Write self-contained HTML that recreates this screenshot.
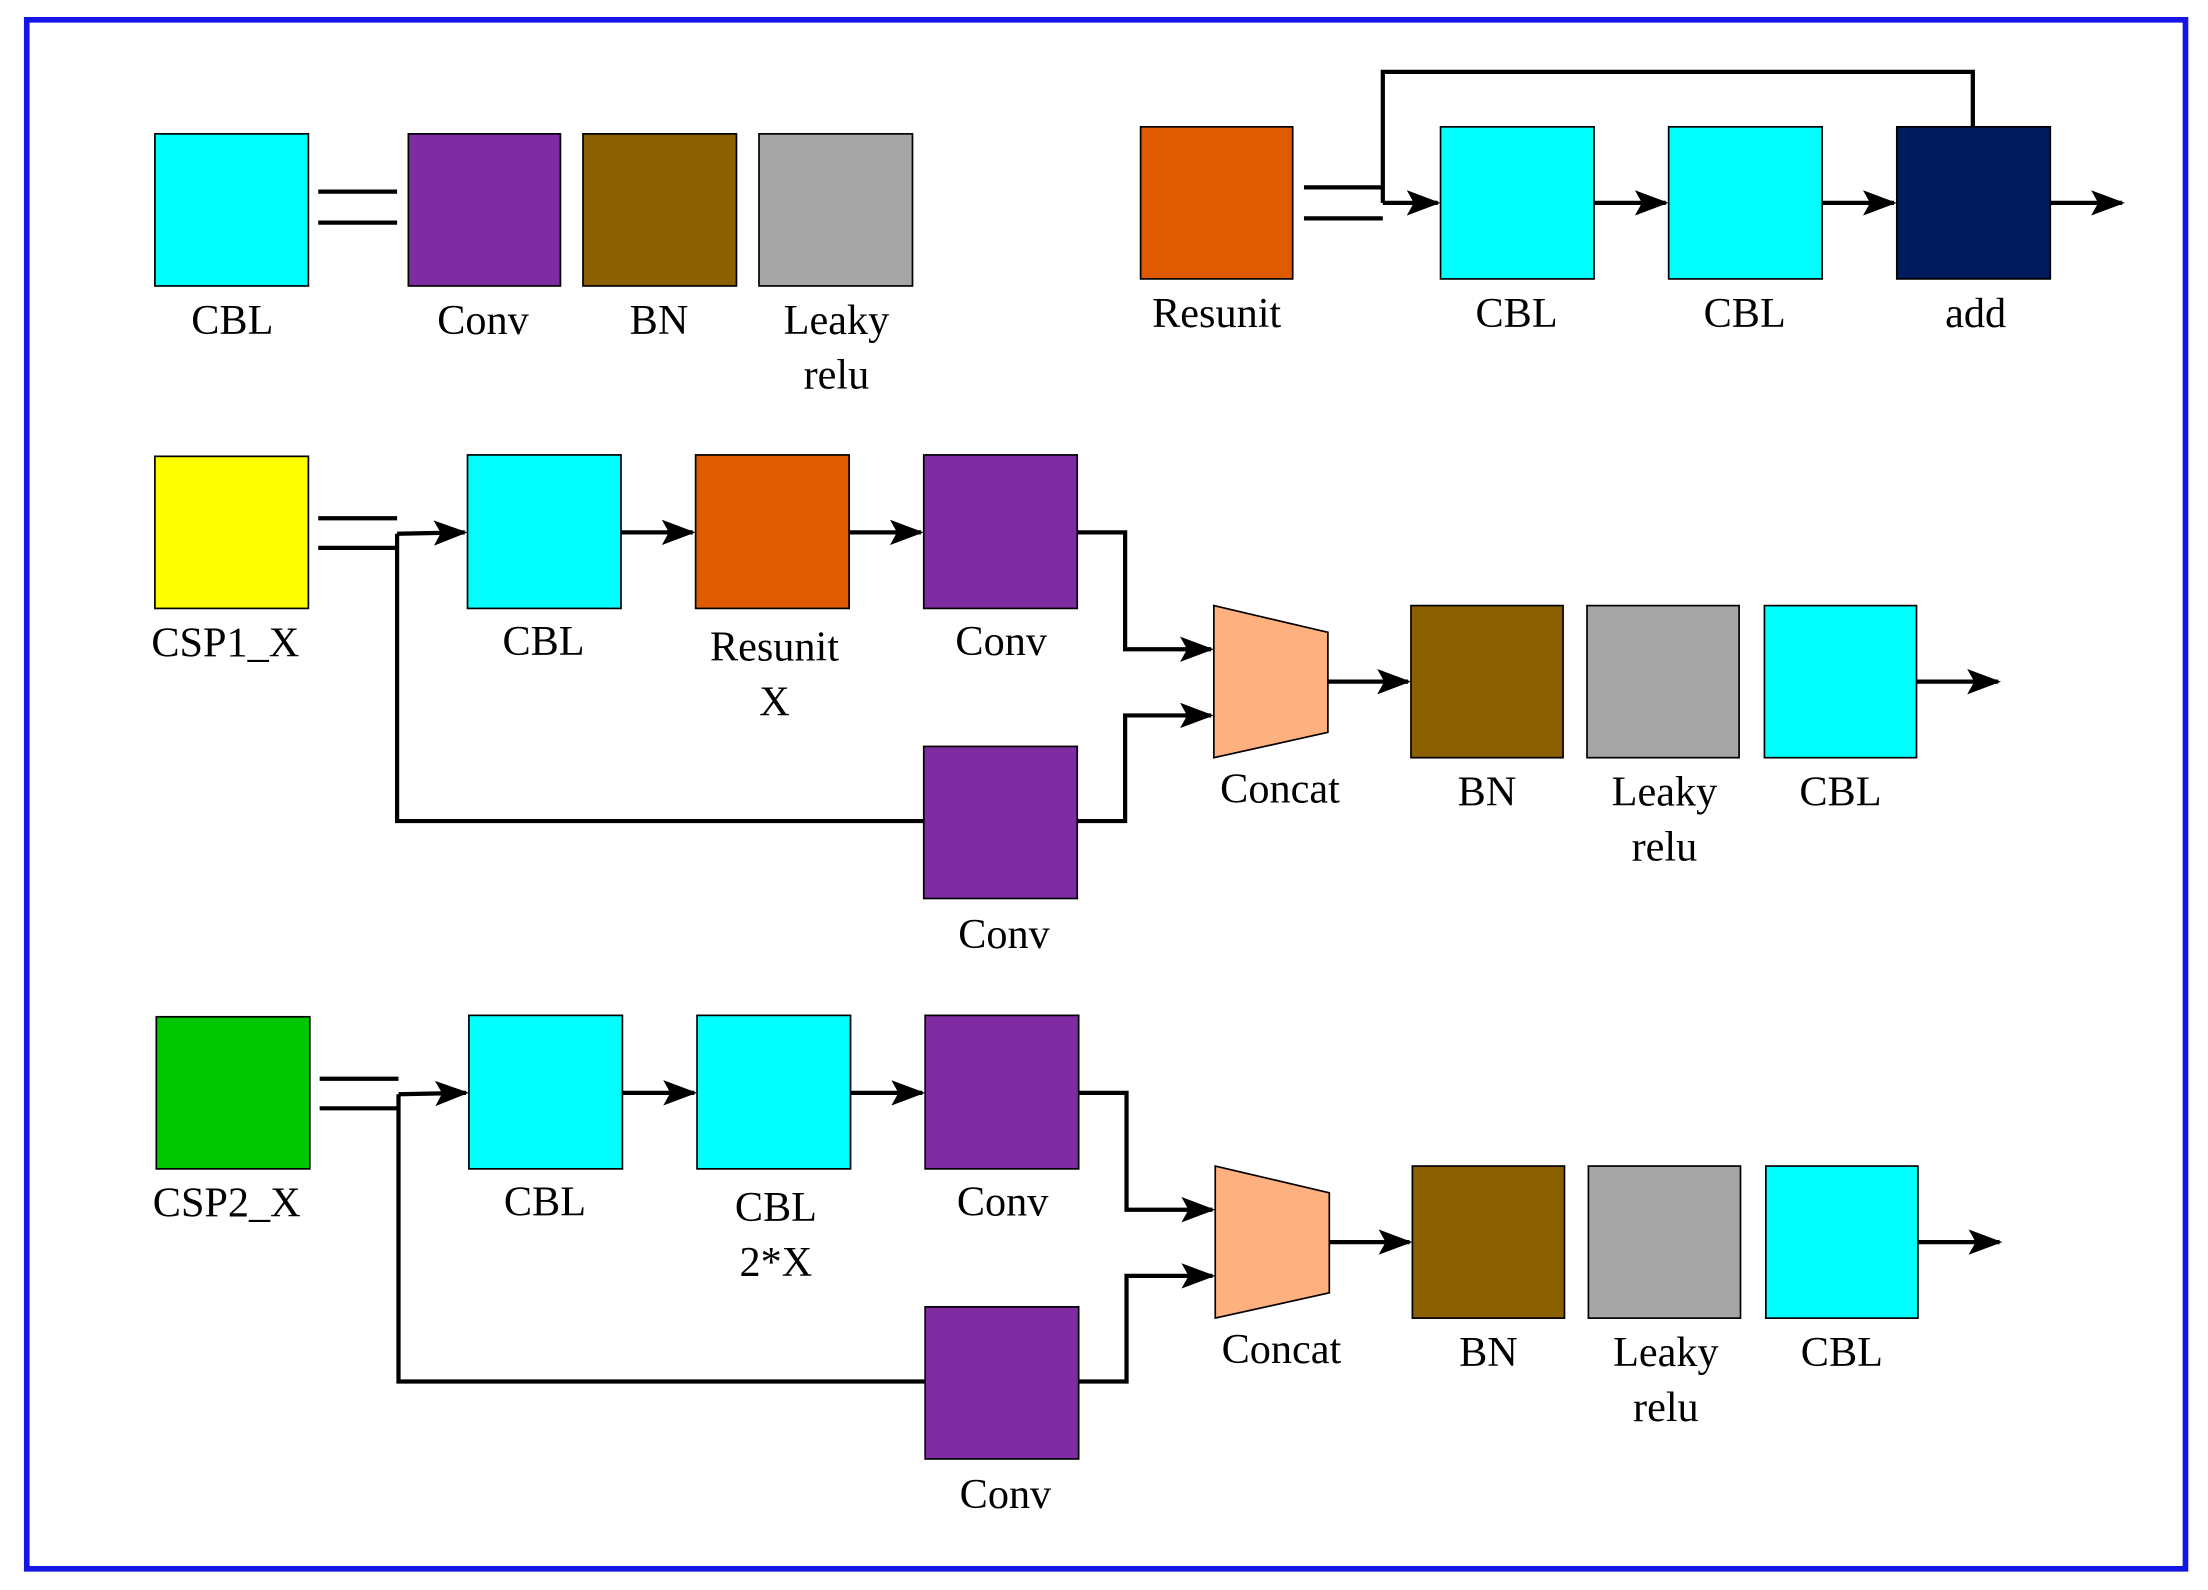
<!DOCTYPE html>
<html><head><meta charset="utf-8"><style>html,body{margin:0;padding:0;background:#fff}svg{display:block}</style></head>
<body>
<svg width="2208" height="1590" viewBox="0 0 1568 1129" xmlns="http://www.w3.org/2000/svg">
<defs>
<marker id="a" markerWidth="24" markerHeight="18" refX="22" refY="9" orient="auto" markerUnits="userSpaceOnUse">
<path d="M0,0 L24,9 L0,18 L5,9 Z" fill="#000"/></marker>
</defs>
<rect x="0" y="0" width="1568" height="1129" fill="#fff"/>
<rect x="19" y="14" width="1533" height="1100" fill="none" stroke="#1515e6" stroke-width="4"/>
<g font-family="Liberation Serif, serif" font-size="30" text-anchor="middle" fill="#000">
<g stroke="#000" stroke-width="1.2">
<rect x="110" y="95" width="109" height="108" fill="#00ffff"/>
<rect x="290" y="95" width="108" height="108" fill="#7f2ca2"/>
<rect x="414" y="95" width="109" height="108" fill="#8b6000"/>
<rect x="539" y="95" width="109" height="108" fill="#a6a6a6"/>
</g>
<g stroke="#000" stroke-width="3"><line x1="226" y1="136" x2="282" y2="136"/><line x1="226" y1="158" x2="282" y2="158"/></g>
<text x="165" y="237">CBL</text><text x="343" y="237">Conv</text><text x="468" y="237">BN</text><text x="594" y="237">Leaky</text><text x="594" y="276">relu</text>

<g stroke="#000" stroke-width="1.2">
<rect x="810" y="90" width="108" height="108" fill="#e05a00"/>
<rect x="1023" y="90" width="109" height="108" fill="#00ffff"/>
<rect x="1185" y="90" width="109" height="108" fill="#00ffff"/>
<rect x="1347" y="90" width="109" height="108" fill="#001a5e"/>
</g>
<g stroke="#000" stroke-width="3" fill="none">
<line x1="926" y1="133" x2="982" y2="133"/><line x1="926" y1="155" x2="982" y2="155"/>
<line x1="982" y1="144" x2="1021" y2="144" marker-end="url(#a)"/>
<polyline points="982,144 982,51 1401,51 1401,90"/>
<line x1="1132" y1="144" x2="1183" y2="144" marker-end="url(#a)"/>
<line x1="1294" y1="144" x2="1345" y2="144" marker-end="url(#a)"/>
<line x1="1456" y1="144" x2="1507" y2="144" marker-end="url(#a)"/>
</g>
<text x="864" y="232">Resunit</text><text x="1077" y="232">CBL</text><text x="1239" y="232">CBL</text><text x="1403" y="232">add</text>

<g>
<g stroke="#000" stroke-width="1.2">
<rect x="110" y="324" width="109" height="108" fill="#ffff00"/>
<rect x="332" y="323" width="109" height="109" fill="#00ffff"/>
<rect x="494" y="323" width="109" height="109" fill="#e05a00"/>
<rect x="656" y="323" width="109" height="109" fill="#7f2ca2"/>
<rect x="656" y="530" width="109" height="108" fill="#7f2ca2"/>
<polygon points="862,430 943,449 943,520 862,538" fill="#ffb07f"/>
<rect x="1002" y="430" width="108" height="108" fill="#8b6000"/>
<rect x="1127" y="430" width="108" height="108" fill="#a6a6a6"/>
<rect x="1253" y="430" width="108" height="108" fill="#00ffff"/>
</g>
<g stroke="#000" stroke-width="3" fill="none">
<line x1="226" y1="368" x2="282" y2="368"/><line x1="226" y1="389" x2="282" y2="389"/>
<line x1="282" y1="379" x2="330" y2="378" marker-end="url(#a)"/>
<polyline points="282,379 282,583 656,583"/>
<line x1="441" y1="378" x2="492" y2="378" marker-end="url(#a)"/>
<line x1="603" y1="378" x2="654" y2="378" marker-end="url(#a)"/>
<polyline points="765,378 799,378 799,461 860,461" marker-end="url(#a)"/>
<polyline points="765,583 799,583 799,508 860,508" marker-end="url(#a)"/>
<line x1="943" y1="484" x2="1000" y2="484" marker-end="url(#a)"/>
<line x1="1361" y1="484" x2="1419" y2="484" marker-end="url(#a)"/>
</g>
<text x="160" y="466">CSP1_X</text><text x="386" y="465">CBL</text><text x="550" y="469">Resunit</text><text x="550" y="508">X</text>
<text x="711" y="465">Conv</text><text x="713" y="673">Conv</text><text x="909" y="570">Concat</text>
<text x="1056" y="572">BN</text><text x="1182" y="572">Leaky</text><text x="1182" y="611">relu</text><text x="1307" y="572">CBL</text>
</g>

<g transform="translate(1,398)">
<g stroke="#000" stroke-width="1.2">
<rect x="110" y="324" width="109" height="108" fill="#00c800"/>
<rect x="332" y="323" width="109" height="109" fill="#00ffff"/>
<rect x="494" y="323" width="109" height="109" fill="#00ffff"/>
<rect x="656" y="323" width="109" height="109" fill="#7f2ca2"/>
<rect x="656" y="530" width="109" height="108" fill="#7f2ca2"/>
<polygon points="862,430 943,449 943,520 862,538" fill="#ffb07f"/>
<rect x="1002" y="430" width="108" height="108" fill="#8b6000"/>
<rect x="1127" y="430" width="108" height="108" fill="#a6a6a6"/>
<rect x="1253" y="430" width="108" height="108" fill="#00ffff"/>
</g>
<g stroke="#000" stroke-width="3" fill="none">
<line x1="226" y1="368" x2="282" y2="368"/><line x1="226" y1="389" x2="282" y2="389"/>
<line x1="282" y1="379" x2="330" y2="378" marker-end="url(#a)"/>
<polyline points="282,379 282,583 656,583"/>
<line x1="441" y1="378" x2="492" y2="378" marker-end="url(#a)"/>
<line x1="603" y1="378" x2="654" y2="378" marker-end="url(#a)"/>
<polyline points="765,378 799,378 799,461 860,461" marker-end="url(#a)"/>
<polyline points="765,583 799,583 799,508 860,508" marker-end="url(#a)"/>
<line x1="943" y1="484" x2="1000" y2="484" marker-end="url(#a)"/>
<line x1="1361" y1="484" x2="1419" y2="484" marker-end="url(#a)"/>
</g>
<text x="160" y="466">CSP2_X</text><text x="386" y="465">CBL</text><text x="550" y="469">CBL</text><text x="550" y="508">2*X</text>
<text x="711" y="465">Conv</text><text x="713" y="673">Conv</text><text x="909" y="570">Concat</text>
<text x="1056" y="572">BN</text><text x="1182" y="572">Leaky</text><text x="1182" y="611">relu</text><text x="1307" y="572">CBL</text>
</g>
</g>
</svg>
</body></html>
